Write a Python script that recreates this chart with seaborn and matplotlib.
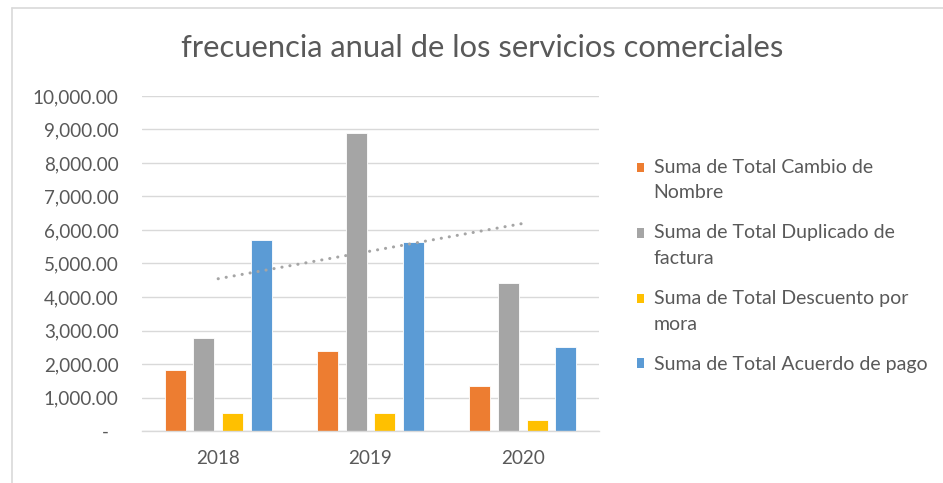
import numpy as np
import pandas as pd
import matplotlib
matplotlib.use('Agg')
import matplotlib.pyplot as plt
from matplotlib.patches import Patch
from matplotlib.lines import Line2D
from matplotlib.ticker import FuncFormatter, MultipleLocator
import seaborn as sns

###################################################################################
# Data

years = ['2018', '2019', '2020']
series = ['Suma de Total Cambio de Nombre',
          'Suma de Total Duplicado de factura',
          'Suma de Total Descuento por mora',
          'Suma de Total Acuerdo de pago']
legend_labels = ['Suma de Total Cambio de\nNombre',
                 'Suma de Total Duplicado de\nfactura',
                 'Suma de Total Descuento por\nmora',
                 'Suma de Total Acuerdo de pago']
cambio_nombre = [1810, 2400, 1340]
duplicado_factura = [2780, 8900, 4430]
descuento_mora = [540, 540, 320]
acuerdo_pago = [5700, 5640, 2510]
colors = ['#ED7D31', '#A5A5A5', '#FFC000', '#5B9BD5']

df = pd.DataFrame({
    'year': years * 4,
    'serie': np.repeat(series, len(years)),
    'valor': cambio_nombre + duplicado_factura + descuento_mora + acuerdo_pago,
})

###################################################################################
# Plot

sns.set_style('white')
plt.rcParams['font.family'] = ['Lato', 'DejaVu Sans']
text_col = '#595959'

fig = plt.figure(figsize=(9.43, 4.83), dpi=100)
ax = fig.add_axes([142/943, 1-431/483, (599-142)/943, (431-96)/483])

sns.barplot(data=df, x='year', y='valor', hue='serie', hue_order=series,
            palette=colors, width=0.754, gap=0.27, errorbar=None,
            edgecolor='white', linewidth=0.6, saturation=1, legend=False, ax=ax)

# linear trendline of the duplicado de factura series
sns.regplot(x=np.arange(len(years)), y=np.array(duplicado_factura, dtype=float),
            scatter=False, ci=None, truncate=True, ax=ax,
            line_kws=dict(color='#A5A5A5', lw=2.2, ls=(0, (0.05, 2.6)),
                          dash_capstyle='round'))

ax.set_xlim(-0.5, 2.5)
ax.set_ylim(0, 10000)
ax.yaxis.set_major_locator(MultipleLocator(1000))
ax.yaxis.set_major_formatter(FuncFormatter(lambda v, p: '-  ' if v == 0 else f'{v:,.2f}'))
ax.grid(axis='y', color='#D9D9D9', lw=1)
ax.set_axisbelow(True)
for s in ['left', 'right', 'top']:
    ax.spines[s].set_visible(False)
ax.spines['bottom'].set_color('#D9D9D9')
ax.spines['bottom'].set_linewidth(1)
ax.set_xlabel('')
ax.set_ylabel('')
ax.tick_params(axis='y', length=0, pad=17, labelsize=13.6, labelcolor=text_col)
ax.tick_params(axis='x', length=0, pad=14, labelsize=13.6, labelcolor=text_col)

fig.text(482/943, 1-57/483, 'frecuencia anual de los servicios comerciales',
         ha='center', va='baseline', fontsize=22.2, color=text_col)

handles = [Patch(facecolor=c, edgecolor='none') for c in colors]
leg = fig.legend(handles, legend_labels, loc='upper left',
                 bbox_to_anchor=(627/943, 1-149/483), frameon=False,
                 fontsize=14, labelcolor=text_col, borderpad=0,
                 handlelength=0.37, handleheight=0.37, handletextpad=0.5,
                 labelspacing=1.2)
for t in leg.get_texts():
    t.set_linespacing(1.6)

# move the square of wrapped entries up to the first line
# (legend centres the square on the whole text block)
fig.canvas.draw()
r = fig.canvas.get_renderer()
texts = leg.get_texts()
one_line = min(t.get_window_extent(r).height for t in texts)
for h, t in zip(leg.legend_handles, texts):
    n = t.get_text().count('\n')
    if n:
        step = (t.get_window_extent(r).height - one_line) / 2 * 72 / fig.dpi
        h.set_y(h.get_y() + step)

# chart border
fig.add_artist(Line2D([12/943, 12/943], [0, 1-8/483], color='#D9D9D9', lw=1.2))
fig.add_artist(Line2D([12/943, 1], [1-8/483, 1-8/483], color='#D9D9D9', lw=1.2))

fig.savefig('out.png', dpi=100, facecolor='white')
